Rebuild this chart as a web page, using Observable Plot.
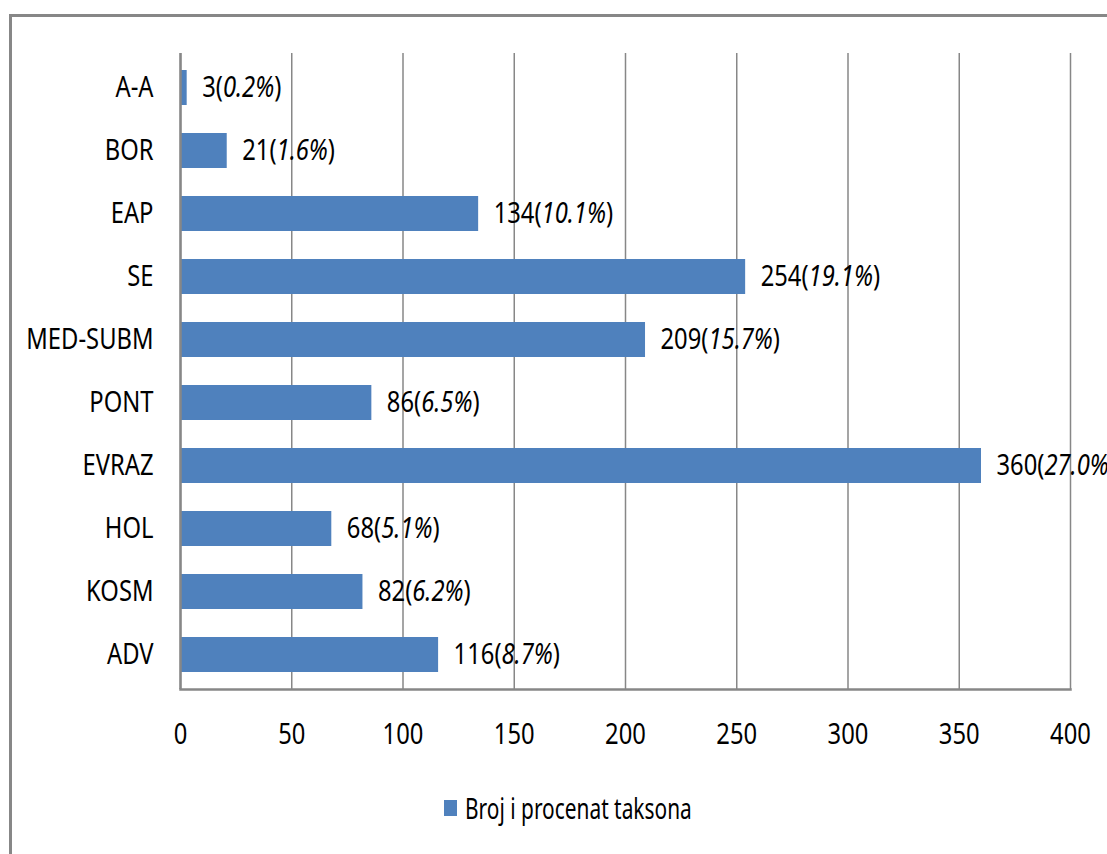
<!DOCTYPE html>
<html>
<head>
<meta charset="utf-8">
<script src="https://cdn.jsdelivr.net/npm/d3@7"></script>
<script src="https://cdn.jsdelivr.net/npm/@observablehq/plot@0.6"></script>
<style>
  html, body { margin: 0; padding: 0; background: #fff; overflow: hidden; }
  body { width: 1107px; height: 854px; position: relative; font-family: "Noto Sans", sans-serif; }
  #frame { position: absolute; left: 9px; top: 14px; width: 1200px; height: 1000px; border: 3px solid #878787; box-sizing: border-box; }
  #chart { position: absolute; left: 0; top: 0; }
  #legend { position: absolute; left: 444px; top: 790px; display: flex; align-items: center; font-size: 29px; line-height: 36px; color: #000; white-space: nowrap; }
  #legend .sw { width: 13px; height: 16px; background: #4F81BD; margin-right: 8px; flex: none; }
  #legendText { display: inline-block; transform: scaleX(0.72); transform-origin: left center; }
</style>
</head>
<body>
<div id="frame"></div>
<div id="chart"></div>
<div id="legend"><div class="sw"></div><span id="legendText"></span></div>
<script>
const categories = ["A-A", "BOR", "EAP", "SE", "MED-SUBM", "PONT", "EVRAZ", "HOL", "KOSM", "ADV"];
const counts = [3, 21, 134, 254, 209, 86, 360, 68, 82, 116];
const percents = ["0.2", "1.6", "10.1", "19.1", "15.7", "6.5", "27.0", "5.1", "6.2", "8.7"];
const xTicks = [0, 50, 100, 150, 200, 250, 300, 350, 400];
const seriesName = "Broj i procenat taksona";

const data = categories.map((c, i) => ({category: c, count: counts[i], pct: percents[i]}));
const barColor = "#4F81BD";
const gridColor = "#878787";
const fontFamily = '"Noto Sans", sans-serif';

const chart = Plot.plot({
  width: 1107,
  height: 770,
  marginLeft: 180,
  marginRight: 37,
  marginTop: 53,
  marginBottom: 81,
  style: {fontFamily, fontSize: "29px", color: "#000", background: "transparent", overflow: "hidden"},
  x: {domain: [0, 400], ticks: xTicks},
  y: {domain: categories, paddingInner: 0.45, paddingOuter: 0.225},
  marks: [
    Plot.gridX(xTicks, {stroke: gridColor, strokeOpacity: 1, strokeWidth: 1.5}),
    Plot.barX(data, {x: "count", y: "category", fill: barColor}),
    Plot.ruleX([0], {stroke: gridColor, strokeWidth: 2.5}),
    Plot.frame({anchor: "bottom", stroke: gridColor, strokeWidth: 2.5}),
    Plot.axisX(xTicks, {tickSize: 0, tickPadding: 34, label: null, fontSize: 29, tickFormat: d => String(d)}),
    Plot.axisY({tickSize: 0, tickPadding: 27, label: null, fontSize: 29}),
    Plot.text(data, {x: "count", y: "category", text: d => `${d.count}(${d.pct}%)`, textAnchor: "start", dx: 15, fontSize: 29, fill: "#000", className: "vals"})
  ]
});
document.getElementById("chart").appendChild(chart);

// render percentage part in italics (as in the original)
const ns = "http://www.w3.org/2000/svg";
chart.querySelectorAll(".vals text").forEach(t => {
  const m = t.textContent.match(/^(\d+)\((.*)\)$/);
  if (!m) return;
  t.textContent = "";
  const a = document.createElementNS(ns, "tspan"); a.textContent = m[1] + "(";
  const b = document.createElementNS(ns, "tspan"); b.textContent = m[2]; b.setAttribute("font-style", "italic");
  const c = document.createElementNS(ns, "tspan"); c.textContent = ")";
  t.append(a, b, c);
});

// condense all chart text horizontally (narrow, Calibri-like look), scaling about each text's anchor
chart.querySelectorAll("text").forEach(t => {
  const tr = t.getAttribute("transform");
  if (tr) {
    t.setAttribute("transform", tr + " scale(0.82,1)");
  } else {
    const x = +(t.getAttribute("x") || 0), y = +(t.getAttribute("y") || 0);
    t.removeAttribute("x"); t.removeAttribute("y");
    t.setAttribute("transform", `translate(${x},${y}) scale(0.82,1)`);
  }
});
document.getElementById("legendText").textContent = seriesName;
</script>
</body>
</html>
